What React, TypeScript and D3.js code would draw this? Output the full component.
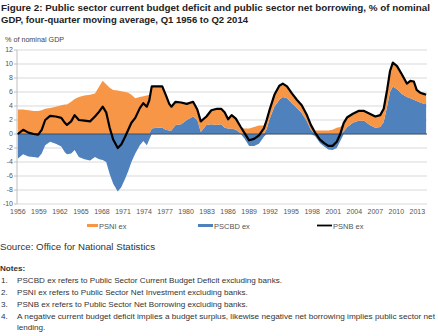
import React from "react";
import * as d3 from "d3";

const years = [1956.0,1956.75,1957.5,1958.25,1958.9,1959.4,1959.9,1960.6,1961.4,1962.2,1962.7,1963.0,1963.6,1964.1,1964.7,1965.5,1966.3,1967.0,1967.6,1968.1,1968.6,1969.1,1969.6,1970.25,1970.75,1971.3,1971.75,1972.2,1972.75,1973.4,1973.9,1974.4,1974.75,1975.1,1975.8,1976.6,1977.1,1977.6,1977.9,1978.5,1979.3,1980.1,1981.0,1981.6,1982.1,1982.9,1983.6,1984.4,1985.0,1985.5,1986.0,1986.5,1987.1,1987.8,1988.3,1989.0,1989.7,1990.4,1991.1,1991.5,1991.9,1992.6,1993.3,1993.8,1994.4,1995.1,1995.8,1996.5,1997.2,1997.8,1998.4,1999.1,1999.7,2000.3,2000.9,2001.5,2002.0,2002.5,2003.0,2003.8,2004.6,2005.4,2006.2,2007.0,2007.7,2008.2,2008.7,2009.1,2009.5,2010.1,2010.8,2011.5,2012.0,2012.5,2012.9,2013.4,2014.0,2014.25];

const psni = [3.5,3.5,3.4,3.3,3.3,3.4,3.6,3.7,3.9,4.1,4.2,4.2,4.6,5.0,5.3,5.5,5.6,5.8,6.8,7.6,7.1,6.6,6.3,6.2,6.1,6.0,5.9,5.6,5.1,5.3,5.4,5.5,5.6,6.0,5.9,5.9,5.0,3.8,3.4,3.3,3.1,2.3,2.1,1.5,1.5,1.2,2.0,2.3,2.2,2.2,1.3,1.9,1.6,0.9,0.8,0.8,1.0,1.2,1.2,1.3,1.3,1.7,2.0,1.9,1.7,1.4,1.2,1.1,0.9,0.7,0.5,0.5,0.5,0.5,0.6,0.9,1.0,1.2,1.4,1.3,1.4,1.4,1.6,1.6,1.7,1.9,2.4,3.0,3.4,3.3,2.8,1.9,2.5,2.6,1.6,1.4,1.4,1.3];

const pscbd = [-3.5,-2.9,-3.2,-3.3,-3.4,-2.8,-1.6,-1.1,-1.4,-1.8,-2.6,-2.9,-2.8,-2.3,-3.3,-3.6,-3.8,-3.3,-3.6,-3.7,-4.0,-5.7,-7.1,-8.2,-7.6,-6.4,-5.3,-4.0,-2.8,-1.6,-1.0,-1.6,-0.8,0.8,0.9,0.9,0.6,0.5,0.5,1.3,1.4,2.0,2.5,2.0,0.3,1.3,1.4,1.3,1.4,0.9,0.8,0.8,0.6,0.1,-0.6,-1.7,-1.7,-1.4,-0.4,0.7,2.1,3.9,4.9,5.3,5.1,4.4,3.7,3.0,1.9,0.6,-0.3,-1.3,-1.8,-2.2,-2.3,-2.0,-1.0,0.4,1.0,1.6,1.9,1.9,1.3,0.9,1.0,1.7,4.0,6.0,6.8,6.4,5.7,5.3,5.1,4.9,4.7,4.5,4.3,4.3];

const psnb = [0.0,0.6,0.2,0.0,-0.1,0.6,2.0,2.6,2.5,2.3,1.6,1.3,1.8,2.7,2.0,1.9,1.8,2.5,3.2,3.9,3.1,0.9,-0.8,-2.0,-1.5,-0.4,0.6,1.6,2.3,3.7,4.4,3.9,4.8,6.8,6.8,6.8,5.6,4.3,3.9,4.6,4.5,4.3,4.6,3.5,1.8,2.5,3.4,3.6,3.6,3.1,2.1,2.7,2.2,1.0,0.2,-0.9,-0.7,-0.2,0.8,2.0,3.4,5.6,6.9,7.2,6.8,5.8,4.9,4.1,2.8,1.3,0.2,-0.8,-1.3,-1.7,-1.7,-1.1,0.0,1.6,2.4,2.9,3.3,3.3,2.9,2.5,2.7,3.6,6.4,9.0,10.2,9.7,8.5,7.2,7.6,7.5,6.3,5.9,5.7,5.6];

const yTicks = [-10,-8,-6,-4,-2,0,2,4,6,8,10,12];
const xTickYears = [1956,1959,1962,1965,1968,1971,1974,1977,1980,1983,1986,1989,1992,1995,1998,2001,2004,2007,2010,2013];

const titleLines = [
  "Figure 2: Public sector current budget deficit and public sector net borrowing, % of nominal",
  "GDP, four-quarter moving average, Q1 1956 to Q2 2014",
];
const noteLines = [
  "PSCBD ex refers to Public Sector Current Budget Deficit excluding banks.",
  "PSNI ex refers to Public Sector Net Investment excluding banks.",
  "PSNB ex refers to Public Sector Net Borrowing excluding banks.",
  "A negative current budget deficit implies a budget surplus, likewise negative net borrowing implies public sector net",
];

const ORANGE = "#F79646";
const BLUE = "#4F81BD";
const FONT = "'Liberation Sans', Arial, sans-serif";

export default function App() {
  const W = 438, H = 336;
  const x = d3.scaleLinear().domain([1955.875, 2014.375]).range([17, 427]);
  const y = d3.scaleLinear().domain([-10, 12]).range([204, 50]);

  const rows = years.map((t, i) => ({ t, pscbd: pscbd[i], psni: psni[i] }));
  const stacked = d3.stack<any>().keys(["pscbd", "psni"]).offset(d3.stackOffsetDiverging)(rows);
  const area = d3.area<any>().x((d) => x(d.data.t)).y0((d) => y(d[0])).y1((d) => y(d[1]));
  const line = d3.line<number>().x((_, i) => x(years[i])).y((d) => y(d));
  const colors: Record<string, string> = { pscbd: BLUE, psni: ORANGE };

  return (
    <svg width={W} height={H} style={{ position: "absolute", left: 0, top: 0, background: "#fff" }} fontFamily={FONT}>
      <rect width={W} height={H} fill="#fff" />
      {titleLines.map((t, i) => (
        <text key={i} x={1} y={11 + i * 11.5} fontSize={9.5} fontWeight="bold" fill="#222"
          textLength={i === 0 ? 429 : 247} lengthAdjust="spacingAndGlyphs">{t}</text>
      ))}
      <text x={5} y={42} fontSize={7.2} fill="#444">% of nominal GDP</text>

      {yTicks.map((v) => (
        <g key={v}>
          <line x1={17} x2={427} y1={y(v)} y2={y(v)} stroke="#D9D9D9" strokeWidth={1} />
          <line x1={14} x2={17} y1={y(v)} y2={y(v)} stroke="#BFBFBF" strokeWidth={1} />
          <text x={13} y={y(v) + 2.4} fontSize={7} fill="#555" textAnchor="end">{v}</text>
        </g>
      ))}
      <line x1={17} x2={17} y1={50} y2={204} stroke="#BFBFBF" strokeWidth={1} />

      {stacked.map((s) => (
        <path key={s.key} d={area(s) || ""} fill={colors[s.key]} stroke="none" />
      ))}
      <line x1={17} x2={427} y1={y(0)} y2={y(0)} stroke="#3F4F66" strokeWidth={1.2} />
      <path d={line(psnb) || ""} fill="none" stroke="#000" strokeWidth={2.2} strokeLinejoin="round" />

      {xTickYears.map((yr) => (
        <text key={yr} x={x(yr)} y={214} fontSize={7} fill="#555" textAnchor="middle">{yr}</text>
      ))}

      <rect x={87} y={224} width={11} height={3} fill={ORANGE} />
      <text x={99} y={228.5} fontSize={7.5} fill="#555">PSNI ex</text>
      <rect x={198} y={224} width={15} height={3} fill={BLUE} />
      <text x={214} y={228.5} fontSize={7.5} fill="#555">PSCBD ex</text>
      <line x1={317} x2={332} y1={225.5} y2={225.5} stroke="#000" strokeWidth={1.8} />
      <text x={333} y={228.5} fontSize={7.5} fill="#555">PSNB ex</text>

      <text x={0} y={250} fontSize={9.7} fill="#333" textLength={155} lengthAdjust="spacingAndGlyphs">Source: Office for National Statistics</text>
      <text x={0} y={271} fontSize={8.1} fontWeight="bold" fill="#333">Notes:</text>
      {noteLines.map((t, i) => (
        <g key={i}>
          <text x={1} y={283 + i * 12} fontSize={8.1} fill="#333">{`${i + 1}.`}</text>
          <text x={17} y={283 + i * 12} fontSize={8.1} fill="#333"
            textLength={i === 3 ? 418 : undefined} lengthAdjust="spacingAndGlyphs">{t}</text>
        </g>
      ))}
      <text x={17} y={330} fontSize={8.1} fill="#333">lending.</text>
    </svg>
  );
}
